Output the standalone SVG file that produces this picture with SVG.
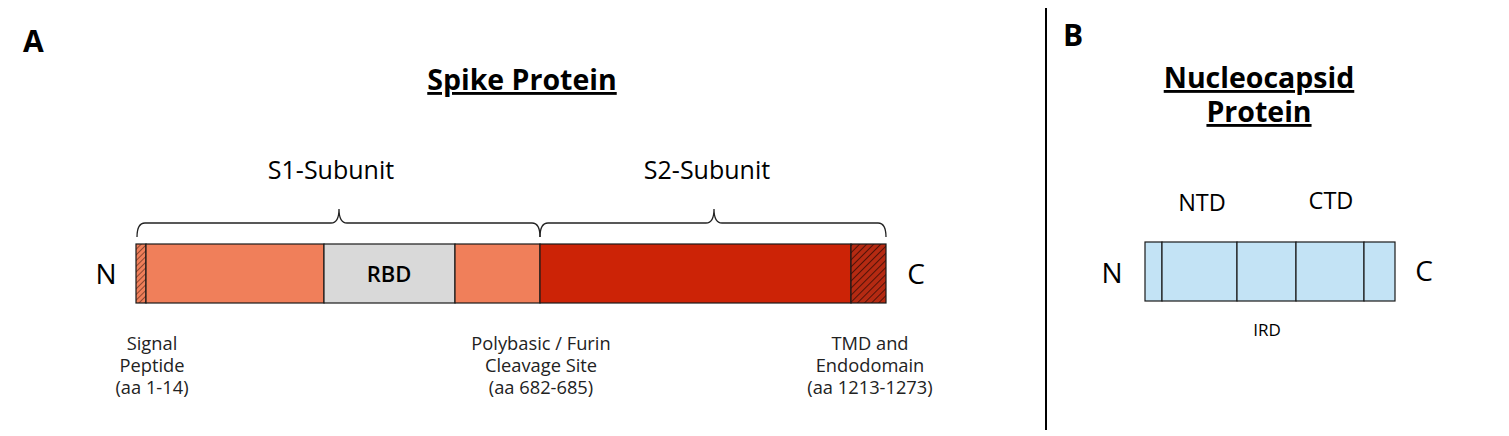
<svg xmlns="http://www.w3.org/2000/svg" width="1509" height="436" viewBox="0 0 1509 436">
<defs>
<pattern id="hatchSP" patternUnits="userSpaceOnUse" width="4" height="4" patternTransform="rotate(45)">
<rect width="4" height="4" fill="#f07f5a"/>
<line x1="0" y1="0" x2="0" y2="4" stroke="#5a2a1a" stroke-width="1.3"/>
</pattern>
<pattern id="hatchTMD" patternUnits="userSpaceOnUse" width="5" height="5" patternTransform="rotate(45)">
<rect width="5" height="5" fill="#b52a12"/>
<line x1="0" y1="0" x2="0" y2="5" stroke="#3a0d05" stroke-width="1.6"/>
</pattern>
</defs>
<style>
text{font-family:"Open Sans","Noto Sans","DejaVu Sans",sans-serif;fill:#000}
.panel{font-size:30px;font-weight:bold}
.title{font-size:28.5px;font-weight:bold;text-anchor:middle;text-decoration:underline}
.sub{font-size:25px;text-anchor:middle}
.term{font-size:28px;text-anchor:middle}
.lab{font-size:18.3px;text-anchor:middle;fill:#222}
.dom{stroke:#1a1a1a;stroke-width:1.2}
.brace{fill:none;stroke:#222;stroke-width:1.3}
</style>
<rect width="1509" height="436" fill="#fff"/>
<line x1="1046" y1="8" x2="1046" y2="430" stroke="#000" stroke-width="2"/>
<g id="panelA">
<text class="panel" x="23" y="52">A</text>
<text class="title" x="522" y="90">Spike Protein</text>
<g id="connectors">
<path class="brace" d="M137,237 Q137,223 145,223 L331,223 Q339,223 339,209 Q339,223 347,223 L532,223 Q540,223 540,237"/>
<path class="brace" d="M540,237 Q540,223 548,223 L706,223 Q714,223 714,209 Q714,223 722,223 L878,223 Q886,223 886,237"/>
</g>
<g id="s1label"><text class="sub" x="331" y="179">S1-Subunit</text></g>
<g id="s2label"><text class="sub" x="707" y="179">S2-Subunit</text></g>
<g id="spikeN"><text class="term" x="106" y="284">N</text></g>
<g id="spikeC"><text class="term" x="916" y="284">C</text></g>
<g id="signalPeptide">
<rect class="dom" x="136" y="244" width="10" height="59" fill="url(#hatchSP)"/>
<text class="lab" x="152" y="350">Signal</text>
<text class="lab" x="152" y="372">Peptide</text>
<text class="lab" x="152" y="394">(aa 1-14)</text>
</g>
<g id="s1a"><rect class="dom" x="146" y="244" width="178" height="59" fill="#f07f5a"/></g>
<g id="rbd">
<rect class="dom" x="324" y="244" width="131" height="59" fill="#d9d9d9"/>
<text x="389" y="282" font-size="22" font-weight="600" text-anchor="middle" fill="#222">RBD</text>
</g>
<g id="s1b"><rect class="dom" x="455" y="244" width="85" height="59" fill="#f07f5a"/></g>
<g id="furin">
<text class="lab" x="541" y="350">Polybasic / Furin</text>
<text class="lab" x="541" y="372">Cleavage Site</text>
<text class="lab" x="541" y="394">(aa 682-685)</text>
</g>
<g id="s2"><rect class="dom" x="540" y="244" width="311" height="59" fill="#cc2306"/></g>
<g id="tmd">
<rect class="dom" x="851" y="244" width="35" height="59" fill="url(#hatchTMD)"/>
<text class="lab" x="870" y="350">TMD and</text>
<text class="lab" x="870" y="372">Endodomain</text>
<text class="lab" x="870" y="394">(aa 1213-1273)</text>
</g>
</g>
<g id="panelB">
<text class="panel" x="1063" y="46">B</text>
<text class="title"><tspan x="1259" y="88">Nucleocapsid</tspan><tspan x="1259" y="122">Protein</tspan></text>
<g id="ntdLabel"><text x="1202" y="211" font-size="23.5" text-anchor="middle">NTD</text></g>
<g id="ctdLabel"><text x="1331" y="209" font-size="23.5" text-anchor="middle">CTD</text></g>
<g id="nN"><text class="term" x="1112" y="283">N</text></g>
<g id="nC"><text class="term" x="1424" y="281">C</text></g>
<g id="nSeg1"><rect class="dom" x="1145" y="242" width="17" height="59" fill="#c3e3f5"/></g>
<g id="nSeg2"><rect class="dom" x="1162" y="242" width="75" height="59" fill="#c3e3f5"/></g>
<g id="nSeg3"><rect class="dom" x="1237" y="242" width="59" height="59" fill="#c3e3f5"/></g>
<g id="nSeg4"><rect class="dom" x="1296" y="242" width="68" height="59" fill="#c3e3f5"/></g>
<g id="nSeg5"><rect class="dom" x="1364" y="242" width="31" height="59" fill="#c3e3f5"/></g>
<g id="irdLabel"><text x="1267" y="336" font-size="17" text-anchor="middle" fill="#222">IRD</text></g>
</g>
</svg>
